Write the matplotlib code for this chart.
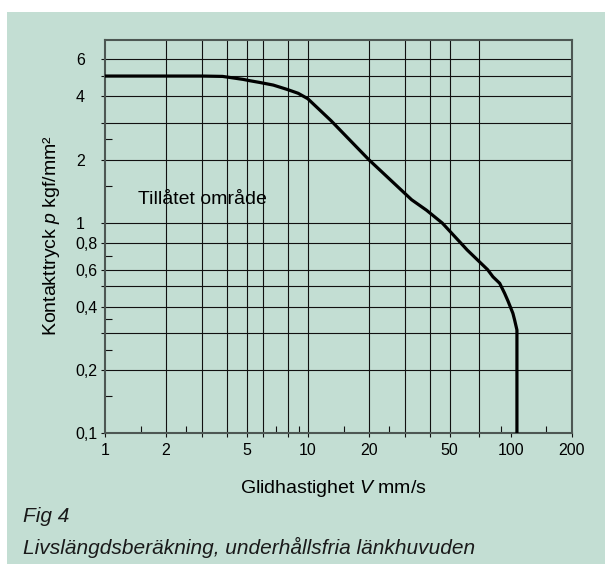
import matplotlib
matplotlib.use('Agg')
import matplotlib.pyplot as plt
from matplotlib.patches import Rectangle

plt.rcParams['font.family'] = ['Liberation Sans', 'DejaVu Sans']
plt.rcParams['mathtext.fontset'] = 'custom'
plt.rcParams['mathtext.rm'] = 'Liberation Sans'
plt.rcParams['mathtext.it'] = 'Liberation Sans:italic'

# kurvan: glidhastighet V (mm/s) -> tillåtet kontakttryck p (kgf/mm²)
V = [1, 2, 3, 3.8, 4.8, 5.18, 5.8, 6.75, 7.9, 8.96, 10, 13, 20, 32.5, 38.5, 46, 57, 61, 77,
     81.8, 88.3, 93.4, 97.0, 102.6, 104.6, 107.4, 107.4]
p = [5.0, 5.0, 5.0, 4.98, 4.82, 4.75, 4.66, 4.53, 4.32, 4.14, 3.9, 3.07, 2.0, 1.29, 1.15, 1.0, 0.8, 0.745, 0.6,
     0.555, 0.517, 0.463, 0.426, 0.372, 0.346, 0.31, 0.1]

x_grid = [2, 3, 4, 5, 6, 8, 10, 20, 30, 40, 50, 70]
x_ticks = [1, 2, 5, 10, 20, 50, 100, 200]
x_ticklabels = ['1', '2', '5', '10', '20', '50', '100', '200']
x_minor = [1.5, 2.5, 7, 9, 15, 25, 90, 150]

y_grid = [0.2, 0.3, 0.4, 0.5, 0.6, 0.8, 1, 2, 3, 4, 5, 6]
y_ticks = [0.1, 0.2, 0.4, 0.6, 0.8, 1, 2, 4, 6]
y_ticklabels = ['0,1', '0,2', '0,4', '0,6', '0,8', '1', '2', '4', '6']
y_minor = [0.15, 0.25, 0.35, 0.7, 1.5, 2.5]

bg = '#c3ded3'
W, H = 605, 564

fig = plt.figure(figsize=(W / 100, H / 100), dpi=100)
fig.patch.set_facecolor('white')
fig.add_artist(Rectangle((7 / W, 0), 1 - 7 / W, 1 - 12 / H, transform=fig.transFigure,
                         facecolor=bg, edgecolor='none', zorder=-10))

ax = fig.add_axes([105 / W, (H - 433.3) / H, 466.7 / W, 393.3 / H])
ax.set_facecolor(bg)
ax.set_xscale('log')
ax.set_yscale('log')
ax.set_xlim(1, 200)
ax.set_ylim(0.1, 7.42)

# rutnät
for xv in x_grid:
    ax.axvline(xv, color='#111111', lw=0.8, zorder=1)
for yv in y_grid:
    ax.axhline(yv, color='#111111', lw=0.8, zorder=1)

ax.plot(V, p, color='black', lw=2.3, solid_joinstyle='round', solid_capstyle='butt', zorder=3)

xt = sorted(set(x_grid + x_ticks))
ax.set_xticks(xt)
ax.set_xticklabels([x_ticklabels[x_ticks.index(v)] if v in x_ticks else '' for v in xt])
ax.set_xticks(x_minor, minor=True)
yt = sorted(set(y_grid + y_ticks))
ax.set_yticks(yt)
ax.set_yticklabels([y_ticklabels[y_ticks.index(v)] if v in y_ticks else '' for v in yt])
ax.set_yticks(y_minor, minor=True)
ax.xaxis.set_minor_formatter(plt.NullFormatter())
ax.yaxis.set_minor_formatter(plt.NullFormatter())

ax.tick_params(which='major', direction='out', length=3, width=0.8, color='#111111', labelsize=11.5)
ax.tick_params(which='minor', direction='in', length=5, width=0.8, color='#111111')
ax.tick_params(axis='x', which='major', pad=4)
ax.tick_params(axis='y', which='major', pad=18)
for lbl in ax.get_yticklabels():
    lbl.set_horizontalalignment('left')

for s in ax.spines.values():
    s.set_color('#4d5753')
    s.set_linewidth(1.5)

ax.text(1.45, 1.29, 'Tillåtet område', fontsize=14, ha='left', va='center', zorder=4)

fig.text(51.7 / W, 1 - 235 / H, 'Kontakttryck $p$ kgf/mm²', rotation=90,
         ha='center', va='center', fontsize=14)
fig.text(333 / W, 1 - 488.5 / H, 'Glidhastighet $V$ mm/s', ha='center', va='center', fontsize=14)
fig.text(23 / W, 1 - 516 / H, 'Fig 4', style='italic', ha='left', va='center', fontsize=15, color='#1a1a1a')
fig.text(23 / W, 1 - 547 / H, 'Livslängdsberäkning, underhållsfria länkhuvuden', style='italic',
         ha='left', va='center', fontsize=15, color='#1a1a1a')

fig.savefig('out.png', dpi=100, facecolor=fig.get_facecolor())
